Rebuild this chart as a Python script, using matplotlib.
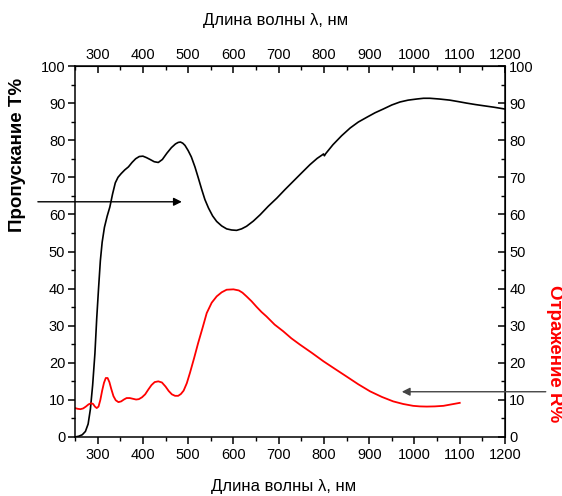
import matplotlib
matplotlib.use("Agg")
import matplotlib.pyplot as plt
from matplotlib.ticker import MultipleLocator, FixedLocator

plt.rcParams['font.family'] = ['Liberation Sans', 'DejaVu Sans']

# Transmission T% (black)
lam_T = [250, 258, 266, 273, 279, 284, 289, 294, 298, 302, 306, 310, 315, 321, 327, 333, 339, 345,
         352, 360, 368, 376, 384, 392, 400, 408, 416, 425, 434, 443, 453, 463, 472, 478, 483, 488, 493,
         500, 507, 515, 522, 530, 537, 545, 554, 563, 574, 585, 596, 607, 618, 629, 644, 659, 677,
         696, 714, 732, 750, 769, 785, 797, 799, 801, 804, 820, 839, 858, 876, 895, 913, 931, 950,
         968, 986, 1005, 1020, 1034, 1055, 1078, 1097, 1115, 1135, 1152, 1175, 1200]
T_vals = [0, 0.2, 0.6, 1.5, 3.5, 7.5, 14, 22.5, 32, 40, 47.5, 52.5, 56.5, 59.5, 62, 65.5, 68.5, 70.0,
          71, 72, 72.8, 74, 75, 75.6, 75.7, 75.3, 74.8, 74.2, 74.0, 74.8, 76.5, 78, 79, 79.4, 79.5, 79.2, 78.6,
          77.2, 75.5, 72.8, 70, 66.7, 64, 61.7, 59.6, 58.1, 56.9, 56.1, 55.8, 55.7, 56.1, 56.8, 58.2, 59.9, 62.2,
          64.4, 66.7, 68.9, 71.1, 73.4, 75.1, 76.1, 76.3, 75.8, 76.4, 78.8, 81.2, 83.3, 84.9, 86.2, 87.4, 88.4, 89.5,
          90.3, 90.8, 91.1, 91.3, 91.3, 91.1, 90.8, 90.4, 90.0, 89.6, 89.3, 88.9, 88.4]

# Reflection R% (red)
lam_R = [250, 256, 262, 268, 274, 280, 286, 290, 294, 298, 302, 306, 310, 314, 318, 322, 326, 330,
         335, 340, 346, 352, 358, 364, 371, 378, 385, 391, 398, 405, 412, 419, 426, 434, 442, 450,
         457, 464, 471, 478, 484, 490, 497, 504, 513, 522, 532, 541, 552, 563, 574, 585, 600, 612,
         620, 629, 640, 651, 662, 673, 691, 710, 728, 747, 773, 799, 825, 850, 876, 902, 928, 953,
         975, 997, 1012, 1027, 1045, 1064, 1082, 1100]
R_vals = [7.8, 7.6, 7.5, 7.7, 8.2, 8.8, 9.1, 8.9, 8.2, 7.8, 8.2, 10, 12.5, 14.6, 15.9, 15.9, 14.8, 13,
          11, 9.9, 9.4, 9.6, 10.1, 10.5, 10.5, 10.3, 10.1, 10.2, 10.7, 11.5, 12.8, 14, 14.8, 15.0, 14.7, 13.6,
          12.4, 11.5, 11.1, 11.1, 11.6, 12.5, 14.5, 17.3, 21.2, 25.3, 29.5, 33.4, 36.2, 37.9, 39.0, 39.7, 39.8, 39.5,
          38.9, 37.9, 36.6, 35.1, 33.7, 32.5, 30.3, 28.5, 26.6, 24.9, 22.7, 20.4, 18.3, 16.3, 14.2, 12.3, 10.8, 9.6,
          8.9, 8.4, 8.25, 8.2, 8.25, 8.4, 8.8, 9.2]

x_ticks = [300, 400, 500, 600, 700, 800, 900, 1000, 1100, 1200]
y_ticks = [0, 10, 20, 30, 40, 50, 60, 70, 80, 90, 100]

# arrows (data coordinates)
arrowT_from, arrowT_to = (168, 63.4), (486, 63.4)
arrowR_from, arrowR_to = (1290, 12.2), (972, 12.2)

xlabel = 'Длина волны λ, нм'
ylabel_T = 'Пропускание Т%'
ylabel_R = 'Отражение R%'

fig = plt.figure(figsize=(5.62, 4.96), dpi=100)
ax = fig.add_axes([75/562, 1-437/496, 430/562, 371/496])

ax.plot(lam_T, T_vals, color='black', lw=1.2, solid_joinstyle='round')
ax.plot(lam_R, R_vals, color='red', lw=1.3, solid_joinstyle='round')

ax.set_xlim(250, 1200)
ax.set_ylim(0, 100)
fs = 10.5
for sp in ax.spines.values():
    sp.set_linewidth(1.1)

ax.xaxis.set_major_locator(FixedLocator(x_ticks))
ax.xaxis.set_minor_locator(MultipleLocator(50))
ax.yaxis.set_major_locator(FixedLocator(y_ticks))
ax.yaxis.set_minor_locator(MultipleLocator(5))
ax.tick_params(which='major', direction='out', length=5, width=1.1, labelsize=fs, pad=2)
ax.tick_params(which='minor', direction='out', length=3, width=1.0)
ax.tick_params(axis='x', pad=3)

sec_top = ax.secondary_xaxis('top')
sec_top.xaxis.set_major_locator(FixedLocator(x_ticks))
sec_top.xaxis.set_minor_locator(MultipleLocator(50))
sec_top.tick_params(which='major', direction='in', length=5, width=1.1, labelsize=fs, pad=3)
sec_top.tick_params(which='minor', direction='in', length=3, width=1.0)

sec_right = ax.secondary_yaxis('right')
sec_right.yaxis.set_major_locator(FixedLocator(y_ticks))
sec_right.yaxis.set_minor_locator(MultipleLocator(5))
sec_right.tick_params(which='major', direction='in', length=5, width=1.1, labelsize=fs, pad=3)
sec_right.tick_params(which='minor', direction='in', length=3, width=1.0)

fig.text(284/562, 1-487/496, xlabel, fontsize=12, ha='center', va='center')
fig.text(276/562, 1-20/496, xlabel, fontsize=12, ha='center', va='center')

fig.text(18/562, 1-155/496, ylabel_T, rotation=90, fontsize=13.5, fontweight='bold',
         ha='center', va='center', color='black')
fig.text(555/562, 1-354/496, ylabel_R, rotation=270, fontsize=13.5, fontweight='bold',
         ha='center', va='center', color='red')

ax.annotate('', xy=arrowT_to, xytext=arrowT_from, annotation_clip=False,
            arrowprops=dict(arrowstyle='-|>', color='black', lw=1.0, mutation_scale=12,
                            shrinkA=0, shrinkB=0))
ax.annotate('', xy=arrowR_to, xytext=arrowR_from, annotation_clip=False,
            arrowprops=dict(arrowstyle='-|>', color='#444444', lw=1.0, mutation_scale=12,
                            shrinkA=0, shrinkB=0))

fig.savefig('out.png', dpi=100)
